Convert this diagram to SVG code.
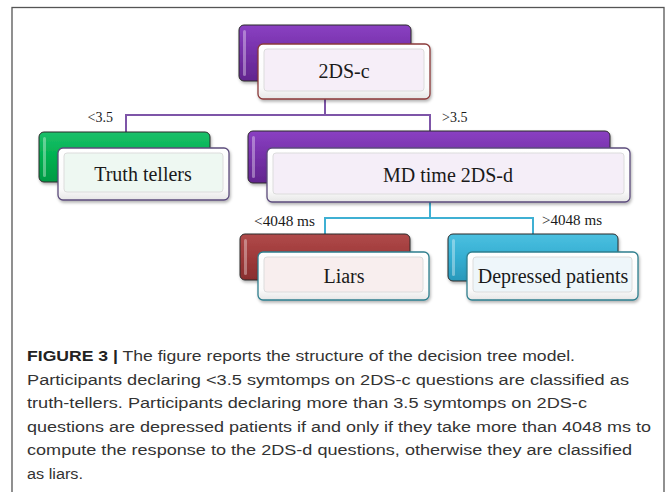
<svg xmlns="http://www.w3.org/2000/svg" width="667" height="492" viewBox="0 0 667 492">
<defs>
<linearGradient id="gPurple" x1="0" y1="0" x2="0" y2="1"><stop offset="0" stop-color="#8a40c2"/><stop offset="0.5" stop-color="#7530a8"/><stop offset="1" stop-color="#62268e"/></linearGradient>
<linearGradient id="gGreen" x1="0" y1="0" x2="0" y2="1"><stop offset="0" stop-color="#1cc06a"/><stop offset="0.5" stop-color="#00b050"/><stop offset="1" stop-color="#009a44"/></linearGradient>
<linearGradient id="gRed" x1="0" y1="0" x2="0" y2="1"><stop offset="0" stop-color="#b04a4a"/><stop offset="0.5" stop-color="#9e3a3a"/><stop offset="1" stop-color="#882e2e"/></linearGradient>
<linearGradient id="gCyan" x1="0" y1="0" x2="0" y2="1"><stop offset="0" stop-color="#4cc0e0"/><stop offset="0.5" stop-color="#34aed2"/><stop offset="1" stop-color="#2a98ba"/></linearGradient>
<linearGradient id="gFront" x1="0" y1="0" x2="0" y2="1"><stop offset="0" stop-color="#ffffff"/><stop offset="0.8" stop-color="#fafafa"/><stop offset="1" stop-color="#e6e6e6"/></linearGradient>
<filter id="sh" x="-10%" y="-10%" width="125%" height="140%"><feDropShadow dx="1" dy="2" stdDeviation="1.5" flood-color="#000" flood-opacity="0.3"/></filter>
</defs>
<style>
.back{stroke:#2b2b2b;stroke-width:1;filter:url(#sh)}
.hl{fill:#ffffff;opacity:0.35}
.front{fill:url(#gFront);stroke-width:1.3;filter:url(#sh)}
.inner{stroke:#dcdcdc;stroke-width:1}
.lbl{font-family:"Liberation Serif","DejaVu Serif",serif;font-size:20px;fill:#1a1a1a;text-anchor:middle}
.cond{font-family:"Liberation Serif","DejaVu Serif",serif;font-size:14px;fill:#1a1a1a}
.cap{font-family:"Liberation Sans","Arial",sans-serif;font-size:15.5px;fill:#333333}
.capb{font-weight:bold;fill:#222222}
.cp{fill:none;stroke:#7e55a8;stroke-width:2}
.cc{fill:none;stroke:#3fb0d3;stroke-width:2}
</style>
<rect x="12" y="7.5" width="652" height="520" fill="none" stroke="#555555" stroke-width="1.3"/>
<g id="connectors">
<path class="cp" d="M325 99V115M126 132V115H430V131"/>
<path class="cc" d="M430 202V218M325 234V218H533V234"/>
<text class="cond" x="113" y="122" text-anchor="end">&lt;3.5</text>
<text class="cond" x="442" y="122">&gt;3.5</text>
<text class="cond" x="315" y="226" text-anchor="end" textLength="61" lengthAdjust="spacingAndGlyphs">&lt;4048 ms</text>
<text class="cond" x="542" y="225" textLength="60" lengthAdjust="spacingAndGlyphs">&gt;4048 ms</text>
</g>
<g id="node-2ds-c">
<rect class="back" x="239" y="25" width="172" height="56" rx="5" fill="url(#gPurple)"/>
<rect class="hl" x="243" y="30" width="3" height="46" rx="1.5"/>
<rect class="front" x="258" y="44" width="172" height="55" rx="5" stroke="#8b3a3a"/>
<rect class="inner" x="264" y="49" width="160" height="42" rx="3" fill="#f6eef8"/>
<text class="lbl" x="344" y="78">2DS-c</text>
</g>
<g id="node-truth">
<rect class="back" x="39" y="132" width="171" height="50" rx="5" fill="url(#gGreen)"/>
<rect class="hl" x="43" y="137" width="3" height="40" rx="1.5"/>
<rect class="front" x="58" y="148" width="171" height="52" rx="5" stroke="#5c4c7c"/>
<rect class="inner" x="64" y="153" width="159" height="39" rx="3" fill="#eef8f2"/>
<text class="lbl" x="143" y="181">Truth tellers</text>
</g>
<g id="node-md">
<rect class="back" x="248" y="131" width="362" height="52" rx="5" fill="url(#gPurple)"/>
<rect class="hl" x="252" y="136" width="3" height="42" rx="1.5"/>
<rect class="front" x="267" y="148" width="363" height="54" rx="5" stroke="#5c4c7c"/>
<rect class="inner" x="273" y="153" width="351" height="41" rx="3" fill="#f5eef8"/>
<text class="lbl" x="448" y="182">MD time 2DS-d</text>
</g>
<g id="node-liars">
<rect class="back" x="240" y="234" width="170" height="46" rx="5" fill="url(#gRed)"/>
<rect class="hl" x="244" y="239" width="3" height="36" rx="1.5"/>
<rect class="front" x="258" y="252" width="171" height="48" rx="5" stroke="#2f7f8e"/>
<rect class="inner" x="264" y="257" width="159" height="35" rx="3" fill="#f8eeee"/>
<text class="lbl" x="344" y="283">Liars</text>
</g>
<g id="node-depressed">
<rect class="back" x="448" y="234" width="170" height="47" rx="5" fill="url(#gCyan)"/>
<rect class="hl" x="452" y="239" width="3" height="37" rx="1.5"/>
<rect class="front" x="467" y="252" width="171" height="48" rx="5" stroke="#2f7f8e"/>
<rect class="inner" x="473" y="257" width="159" height="35" rx="3" fill="#eef6fa"/>
<text class="lbl" x="553" y="283">Depressed patients</text>
</g>
<g id="caption">
<text class="cap" x="27" y="361" textLength="548" lengthAdjust="spacingAndGlyphs"><tspan class="capb">FIGURE 3 |</tspan> The figure reports the structure of the decision tree model.</text>
<text class="cap" x="27" y="384.6" textLength="602" lengthAdjust="spacingAndGlyphs">Participants declaring &lt;3.5 symtomps on 2DS-c questions are classified as</text>
<text class="cap" x="27" y="408.2" textLength="560" lengthAdjust="spacingAndGlyphs">truth-tellers. Participants declaring more than 3.5 symtomps on 2DS-c</text>
<text class="cap" x="27" y="431.8" textLength="624" lengthAdjust="spacingAndGlyphs">questions are depressed patients if and only if they take more than 4048 ms to</text>
<text class="cap" x="27" y="455.4" textLength="605" lengthAdjust="spacingAndGlyphs">compute the response to the 2DS-d questions, otherwise they are classified</text>
<text class="cap" x="27" y="479" textLength="56" lengthAdjust="spacingAndGlyphs">as liars.</text>
</g>
</svg>
